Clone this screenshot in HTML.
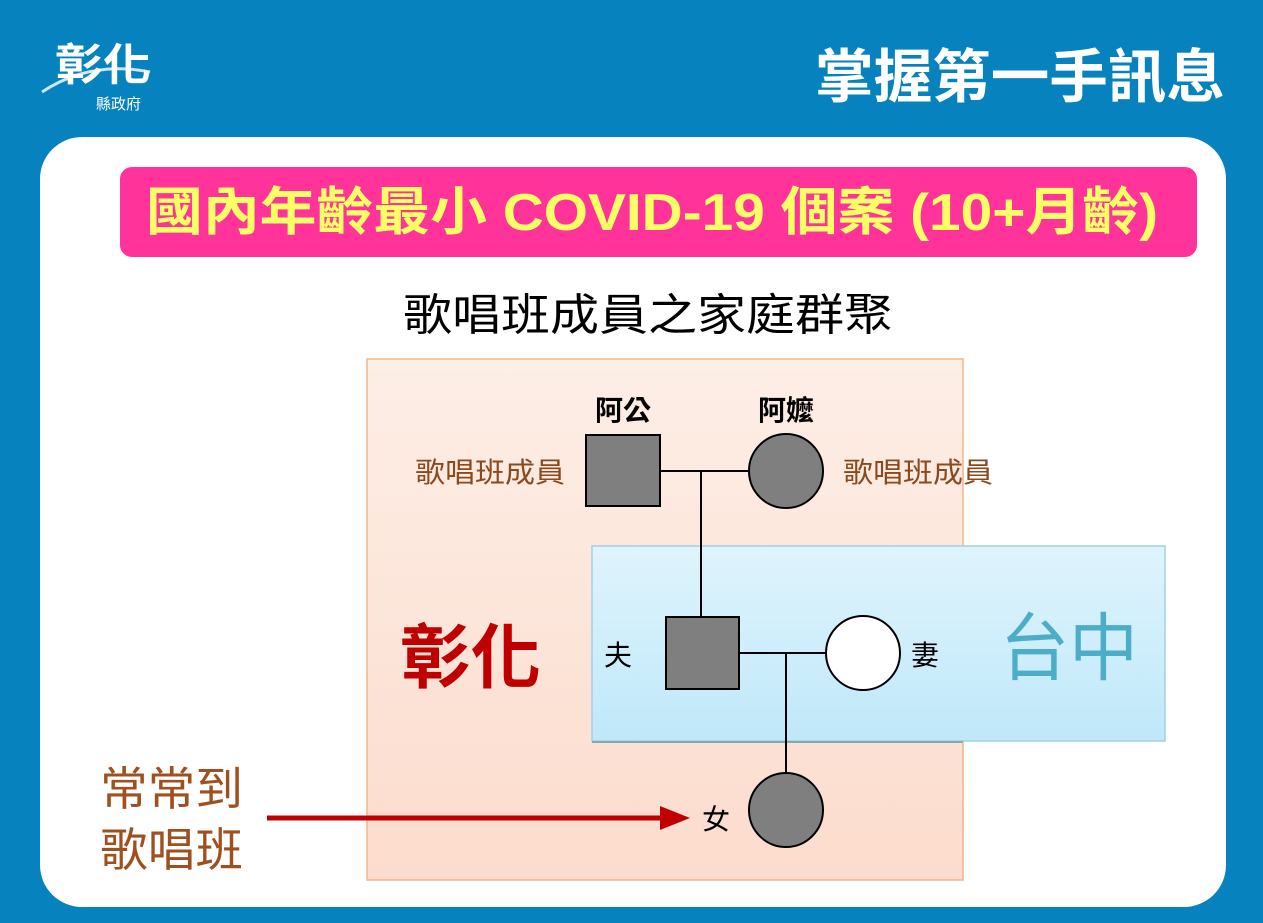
<!DOCTYPE html>
<html><head><meta charset="utf-8"><style>
html,body{margin:0;padding:0;width:1263px;height:923px;overflow:hidden;background:#0683be}
svg{display:block}
text{font-family:"Liberation Sans","Noto Sans CJK TC",sans-serif}
</style></head><body>
<svg width="1263" height="923" viewBox="0 0 1263 923">
<defs>
<linearGradient id="og" x1="0" y1="0" x2="0" y2="1"><stop offset="0" stop-color="#fdeee6"/><stop offset="1" stop-color="#fcdccd"/></linearGradient>
<linearGradient id="bg" x1="0" y1="0" x2="0" y2="1"><stop offset="0" stop-color="#dff4fc"/><stop offset="1" stop-color="#bfe8fa"/></linearGradient>
</defs>
<rect x="0" y="0" width="1263" height="923" fill="#0683be"/>
<path d="M42,92 Q90,60 150,72" stroke="#cfe6f3" stroke-width="3" fill="none"/>
<text x="55" y="80" font-size="44" font-weight="bold" fill="#ffffff" textLength="96" lengthAdjust="spacingAndGlyphs">彰化</text>
<text x="96" y="109" font-size="15" fill="#ffffff">縣政府</text>
<text x="815" y="97" font-size="58" font-weight="bold" fill="#ffffff" textLength="410" lengthAdjust="spacingAndGlyphs">掌握第一手訊息</text>
<rect x="40" y="137" width="1186" height="770" rx="42" fill="#ffffff"/>
<rect x="120" y="167" width="1077" height="90" rx="12" fill="#ff3399"/>
<text x="146" y="230" font-size="52" font-weight="bold" fill="#ffff66" textLength="1012" lengthAdjust="spacingAndGlyphs">國內年齡最小 COVID-19 個案 (10+月齡)</text>
<text x="403" y="330" font-size="44" fill="#000" textLength="490" lengthAdjust="spacingAndGlyphs">歌唱班成員之家庭群聚</text>
<rect x="367" y="359" width="596" height="521" fill="url(#og)" stroke="#f4b58a" stroke-width="1.5"/>
<rect x="592" y="546" width="573" height="195" fill="url(#bg)" stroke="#9fd2e3" stroke-width="1.5"/>
<line x1="592" y1="742" x2="963" y2="742" stroke="#8aa" stroke-width="2"/>
<g stroke="#000" stroke-width="2">
<line x1="660" y1="471" x2="749" y2="471"/>
<line x1="701" y1="471" x2="701" y2="617"/>
<line x1="739" y1="653" x2="826" y2="653"/>
<line x1="786" y1="653" x2="786" y2="773"/>
<rect x="586" y="435" width="74" height="71" fill="#7f7f7f"/>
<circle cx="786" cy="471" r="37" fill="#7f7f7f"/>
<rect x="666" y="617" width="73" height="72" fill="#7f7f7f"/>
<circle cx="863" cy="653" r="37" fill="#fff"/>
<circle cx="786" cy="810" r="37" fill="#7f7f7f"/>
</g>
<text x="623" y="420" font-size="28" font-weight="bold" text-anchor="middle" fill="#000">阿公</text>
<text x="786" y="420" font-size="28" font-weight="bold" text-anchor="middle" fill="#000">阿嬤</text>
<text x="415" y="482" font-size="28" fill="#8b4a1e" textLength="150" lengthAdjust="spacingAndGlyphs">歌唱班成員</text>
<text x="843" y="482" font-size="28" fill="#8b4a1e" textLength="150" lengthAdjust="spacingAndGlyphs">歌唱班成員</text>
<text x="618" y="665" font-size="28" text-anchor="middle" fill="#000">夫</text>
<text x="925" y="665" font-size="28" text-anchor="middle" fill="#000">妻</text>
<text x="716" y="829" font-size="28" text-anchor="middle" fill="#000">女</text>
<text x="400" y="682" font-size="70" font-weight="bold" fill="#c00000" textLength="141" lengthAdjust="spacingAndGlyphs">彰化</text>
<text x="1000" y="674" font-size="74" fill="#4badc8" textLength="138" lengthAdjust="spacingAndGlyphs">台中</text>
<text x="100" y="805" font-size="46" fill="#a0501e" textLength="143" lengthAdjust="spacingAndGlyphs">常常到</text>
<text x="100" y="866" font-size="46" fill="#a0501e" textLength="143" lengthAdjust="spacingAndGlyphs">歌唱班</text>
<line x1="267" y1="818" x2="665" y2="818" stroke="#c00000" stroke-width="5"/>
<path d="M660,806 L690,818 L660,830 z" fill="#c00000"/>
</svg>
</body></html>
